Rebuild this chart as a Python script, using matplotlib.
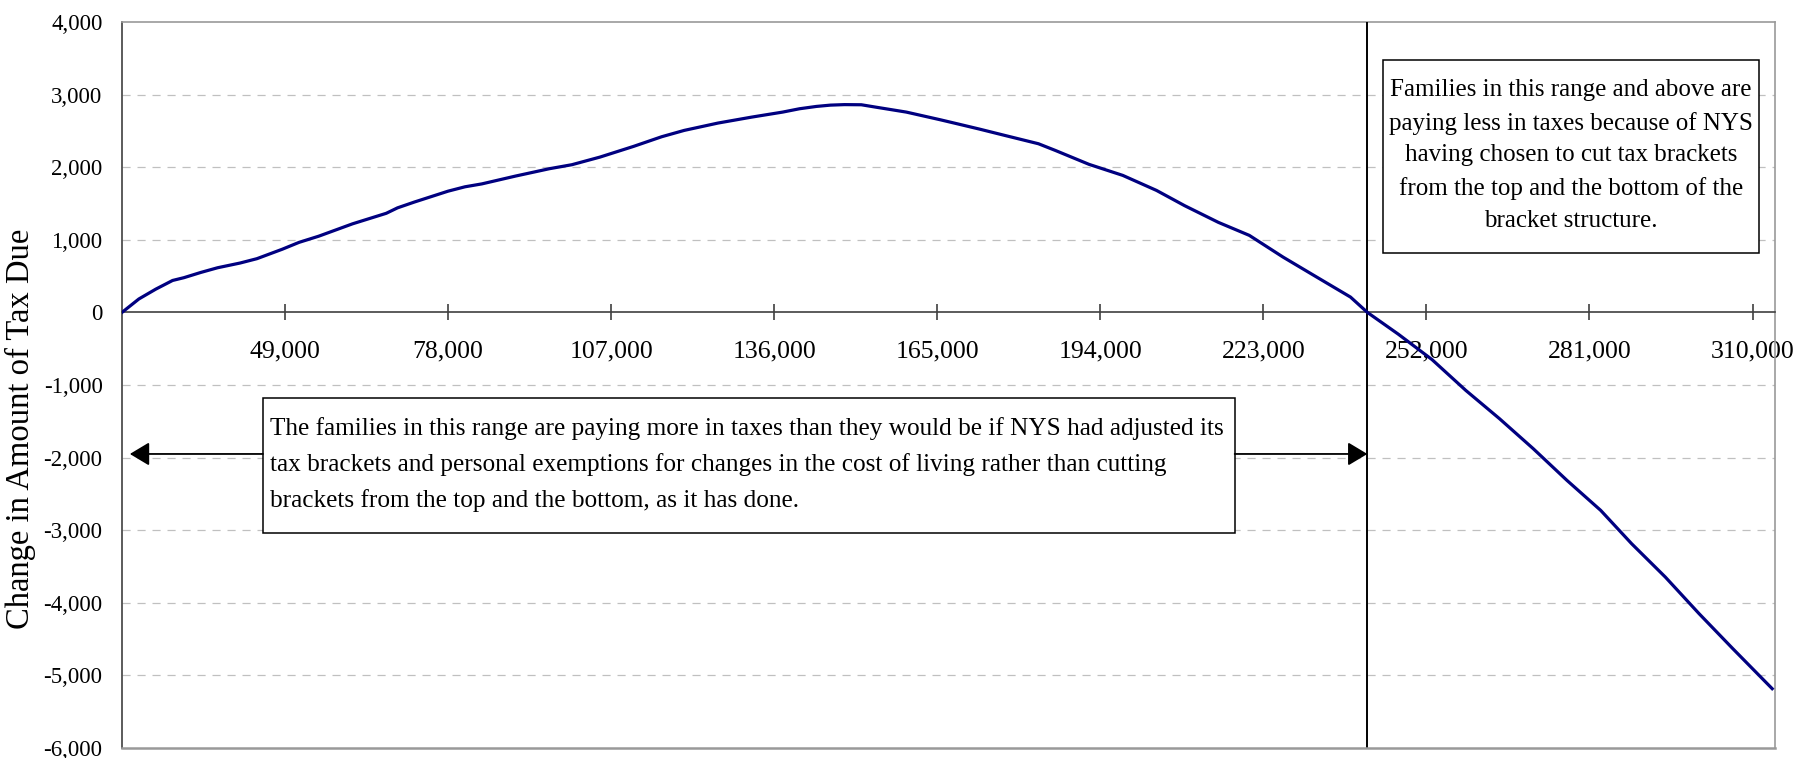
import matplotlib
matplotlib.use("Agg")
import matplotlib.pyplot as plt
from matplotlib.patches import Rectangle

# ---- data ----
income = [20000, 23000, 26000, 29000, 31000, 34000, 37000, 41000, 44000, 48500,
          51500, 55000, 61000, 67000, 69000, 72000, 78000, 81000, 84000, 90000,
          96000, 100000, 105000, 111000, 116000, 120000, 126000, 132000, 137500, 140500,
          143500, 146000, 148500, 151500, 154000, 159500, 165500, 168500, 172500, 177000,
          183000, 186000, 192000, 198000, 204000, 209000, 215000, 220500, 226500, 232500,
          238500, 241500, 247000, 253000, 259000, 265000, 271000, 277000, 283000, 288500,
          294500, 300500, 306500, 313500]
change = [0, 185, 320, 440, 478, 550, 615, 680, 740, 870,
          965, 1050, 1220, 1365, 1440, 1520, 1670, 1730, 1770, 1878,
          1979, 2034, 2139, 2287, 2420, 2507, 2608, 2690, 2759, 2805,
          2837, 2855, 2862, 2860, 2828, 2759, 2654, 2599, 2525, 2438,
          2323, 2231, 2039, 1887, 1680, 1470, 1240, 1061, 762, 486,
          211, 0, -300, -650, -1074, -1464, -1877, -2314, -2727, -3186,
          -3646, -4150, -4632, -5183]
x_ticks = [49000, 78000, 107000, 136000, 165000, 194000, 223000, 252000, 281000, 310000]
y_ticks = [4000, 3000, 2000, 1000, 0, -1000, -2000, -3000, -4000, -5000, -6000]
divider_income = 241500
y_label = "Change in Amount of Tax Due"
note_right = ("Families in this range and above are\npaying less in taxes because of NYS\n"
              "having chosen to cut tax brackets\nfrom the top and the bottom of the\n"
              "bracket structure.")
note_left = ("The families in this range are paying more in taxes than they would be if NYS had adjusted its\n"
             "tax brackets and personal exemptions for changes in the cost of living rather than cutting\n"
             "brackets from the top and the bottom, as it has done.")

FONT = ["Liberation Serif", "DejaVu Serif"]
plt.rcParams["font.family"] = FONT

fig = plt.figure(figsize=(18, 7.58), dpi=100)
ax = fig.add_axes([122/1800, 1-748/758, (1775-122)/1800, (748-22)/758])

ax.set_xlim(20000, 314000)
ax.set_ylim(-6000, 4000)

# gridlines
for v in y_ticks:
    if v not in (0, 4000, -6000):
        ax.axhline(v, color="#c0c0c0", lw=0.9, linestyle=(0, (6.5, 5.5)), zorder=1)

# data line
ax.plot(income, change, color="#000080", lw=2.3, zorder=4, solid_joinstyle="round")

# divider line
ax.axvline(divider_income, color="black", lw=1.4, zorder=3)

# spines
ax.spines["bottom"].set_position(("data", 0))
ax.spines["bottom"].set_color("#404040")
ax.spines["bottom"].set_linewidth(1.2)
ax.spines["left"].set_color("#404040")
ax.spines["left"].set_linewidth(1.2)
for s in ("top", "right"):
    ax.spines[s].set_color("#999999")
    ax.spines[s].set_linewidth(1.2)
ax.plot([0, 1], [0, 0], transform=ax.transAxes, color="#999999", lw=1.8, clip_on=False, zorder=5)

ax.set_xticks(x_ticks)
ax.set_xticklabels([f"{v:,}" for v in x_ticks], fontsize=18.5)
ax.set_yticks(y_ticks)
ax.set_yticklabels([f"{v:,}" for v in y_ticks], fontsize=16.5)
ax.tick_params(axis="x", direction="inout", length=12, width=1.2, color="#404040", pad=14)
ax.tick_params(axis="y", length=0, pad=14)

ax.set_ylabel(y_label, fontsize=23.5)
ax.yaxis.set_label_coords(-0.052, 0.44)

# right note box
ax.add_patch(Rectangle((244200, 813), 311200-244200, 3471-813, fill=True, facecolor="white",
                       edgecolor="black", lw=1.1, zorder=6))
ax.text((244200+311200)/2, (813+3471)/2 + 20, note_right, ha="center", va="center", fontsize=18,
        linespacing=1.58, zorder=7, multialignment="center")

# bottom note box
ax.add_patch(Rectangle((45070, -3044), 217900-45070, -1185+3044, fill=True, facecolor="white",
                       edgecolor="black", lw=1.1, zorder=6))
ax.text(46300, (-3044-1185)/2 + 20, note_left, ha="left", va="center", fontsize=18.2,
        linespacing=1.72, zorder=7, multialignment="left")

arrow_y = -1950
aprops = dict(arrowstyle="-|>,head_length=0.6,head_width=0.36", mutation_scale=20,
              color="black", lw=1.3, shrinkA=0, shrinkB=0)
ax.annotate("", xy=(21400, arrow_y), xytext=(45070, arrow_y), arrowprops=aprops, zorder=6)
ax.annotate("", xy=(divider_income, arrow_y), xytext=(217900, arrow_y), arrowprops=aprops, zorder=6)

fig.savefig("out.png", dpi=100)
